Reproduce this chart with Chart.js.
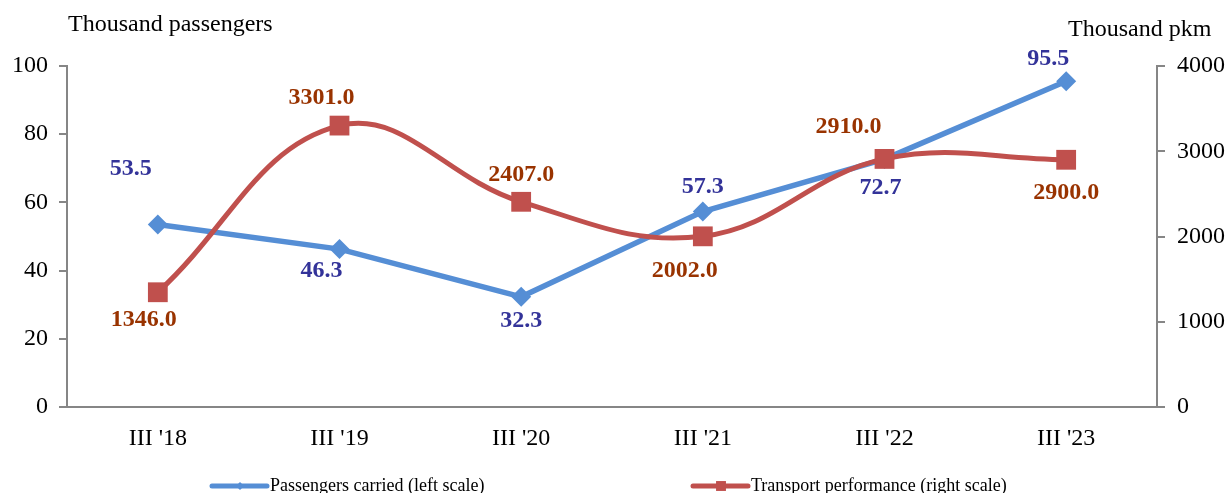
<!DOCTYPE html>
<html>
<head>
<meta charset="utf-8">
<script src="https://cdn.jsdelivr.net/npm/chart.js@4.4.1/dist/chart.umd.min.js"></script>
<style>
  html, body { margin: 0; padding: 0; background: #fff; }
  #wrap { width: 1227px; height: 493px; position: relative; }
</style>
</head>
<body>
<div id="wrap"><canvas id="grafico"></canvas></div>
<script>
const categorias = ["III '18", "III '19", "III '20", "III '21", "III '22", "III '23"];
const passageiros = [53.5, 46.3, 32.3, 57.3, 72.7, 95.5];
const desempenho = [1346.0, 3301.0, 2407.0, 2002.0, 2910.0, 2900.0];
const ticksEsq = [0, 20, 40, 60, 80, 100];
const ticksDir = [0, 1000, 2000, 3000, 4000];

const AZUL = "#558ED5";
const VERMELHO = "#C0504D";
const CINZA = "#868686";
const FONTE = "'Liberation Serif', 'Times New Roman', serif";

// label offsets (dx, dy) relative to each point
const offAzul = [[-27, -56], [-18, 22], [0, 24], [0, -25], [-4, 29], [-18, -23]];
const offVerm = [[-14, 28], [-18, -28], [0, -27], [-18, 34], [-36, -32], [0, 33]];

const extras = {
  id: "extras",
  afterDatasetsDraw(chart) {
    const ctx = chart.ctx;
    ctx.save();
    ctx.textAlign = "center";
    ctx.textBaseline = "middle";
    ctx.font = "bold 24px " + FONTE;

    const rotular = (idx, valores, offs, cor, casas) => {
      const meta = chart.getDatasetMeta(idx);
      ctx.fillStyle = cor;
      meta.data.forEach((pt, i) => {
        ctx.fillText(valores[i].toFixed(casas), pt.x + offs[i][0], pt.y + offs[i][1]);
      });
    };
    rotular(0, passageiros, offAzul, "#333399", 1);
    rotular(1, desempenho, offVerm, "#993300", 1);

    // axis titles
    ctx.fillStyle = "#000";
    ctx.font = "24px " + FONTE;
    ctx.textAlign = "left";
    ctx.fillText("Thousand passengers", 68, 25);
    ctx.fillText("Thousand pkm", 1068, 30);

    // legend
    ctx.font = "18px " + FONTE;
    const itens = [
      { x: 212, cor: AZUL, estilo: "rectRot", raio: 4, texto: "Passengers carried (left scale)" },
      { x: 693, cor: VERMELHO, estilo: "rect", raio: 7, texto: "Transport performance (right scale)" }
    ];
    const yl = 486;
    itens.forEach(it => {
      ctx.strokeStyle = it.cor;
      ctx.lineWidth = 5;
      ctx.lineCap = "round";
      ctx.beginPath();
      ctx.moveTo(it.x, yl);
      ctx.lineTo(it.x + 55, yl);
      ctx.stroke();
      ctx.fillStyle = it.cor;
      Chart.helpers.drawPoint(ctx, { pointStyle: it.estilo, radius: it.raio, borderWidth: 0 }, it.x + 28, yl);
      ctx.fillStyle = "#000";
      ctx.fillText(it.texto, it.x + 58, yl);
    });
    ctx.restore();
  }
};

new Chart(document.getElementById("grafico"), {
  type: "line",
  data: {
    labels: categorias,
    datasets: [
      {
        label: "Passengers carried (left scale)",
        data: passageiros,
        yAxisID: "y",
        borderColor: AZUL,
        backgroundColor: AZUL,
        borderWidth: 5.5,
        tension: 0,
        pointStyle: "rectRot",
        pointRadius: 10,
        pointBorderWidth: 0,
        order: 2
      },
      {
        label: "Transport performance (right scale)",
        data: desempenho,
        yAxisID: "y1",
        borderColor: VERMELHO,
        backgroundColor: VERMELHO,
        borderWidth: 5,
        tension: 0.4,
        pointStyle: "rect",
        pointRadius: 14,
        pointBorderWidth: 0,
        order: 1
      }
    ]
  },
  options: {
    responsive: true,
    maintainAspectRatio: false,
    animation: false,
    layout: { padding: { top: 66, bottom: 36, left: 0, right: 0 } },
    plugins: {
      legend: { display: false },
      tooltip: { enabled: false }
    },
    scales: {
      x: {
        offset: true,
        grid: { display: false },
        border: { color: CINZA, width: 2 },
        ticks: { color: "#000", font: { family: FONTE, size: 24 }, padding: 9 },
        afterFit(s) { s.height = 50; }
      },
      y: {
        position: "left",
        min: 0,
        max: 100,
        afterBuildTicks(s) { s.ticks = ticksEsq.map(v => ({ value: v })); },
        grid: { drawOnChartArea: false, color: CINZA, lineWidth: 2, tickLength: 8 },
        border: { color: CINZA, width: 2 },
        ticks: { color: "#000", font: { family: FONTE, size: 24 }, padding: 11 },
        afterFit(s) { s.width = 67; }
      },
      y1: {
        position: "right",
        min: 0,
        max: 4000,
        afterBuildTicks(s) { s.ticks = ticksDir.map(v => ({ value: v })); },
        grid: { drawOnChartArea: false, color: CINZA, lineWidth: 2, tickLength: 8 },
        border: { color: CINZA, width: 2 },
        ticks: {
          color: "#000",
          font: { family: FONTE, size: 24 },
          padding: 12,
          callback: v => String(v)
        },
        afterFit(s) { s.width = 70; }
      }
    }
  },
  plugins: [extras]
});
</script>
</body>
</html>
